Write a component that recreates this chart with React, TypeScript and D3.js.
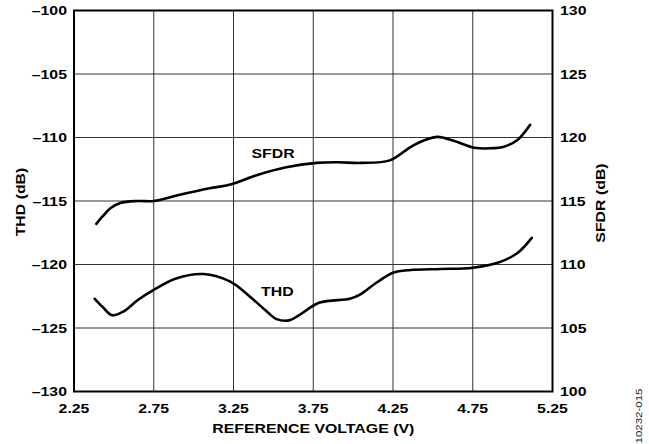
import * as d3 from "d3"

// reference voltage (V) / THD (dB)
const thdVolts = [2.38, 2.43, 2.49, 2.56, 2.65, 2.75, 2.89, 3.06, 3.23, 3.35, 3.45, 3.52, 3.6, 3.66, 3.79, 3.98, 4.04, 4.15, 4.25, 4.36, 4.55, 4.75, 4.92, 5.03, 5.12]
const thdValues = [-122.7, -123.35, -124.0, -123.7, -122.8, -122.0, -121.1, -120.75, -121.35, -122.5, -123.6, -124.3, -124.4, -124.0, -123.0, -122.7, -122.4, -121.4, -120.65, -120.43, -120.35, -120.25, -119.8, -119.1, -117.9]

// reference voltage (V) / SFDR (dB)
const sfdrVolts = [2.39, 2.43, 2.48, 2.54, 2.65, 2.75, 2.9, 3.1, 3.23, 3.4, 3.58, 3.77, 3.9, 4.05, 4.23, 4.36, 4.45, 4.53, 4.63, 4.76, 4.86, 4.95, 5.03, 5.11]
const sfdrValues = [113.2, 113.8, 114.45, 114.85, 115.0, 115.0, 115.45, 116.0, 116.3, 117.05, 117.65, 118.0, 118.05, 118.0, 118.2, 119.25, 119.8, 120.05, 119.75, 119.2, 119.15, 119.3, 119.8, 121.0]

const xTicks = [2.25, 2.75, 3.25, 3.75, 4.25, 4.75, 5.25]
const thdTicks = [-130, -125, -120, -115, -110, -105, -100]
const sfdrTicks = [100, 105, 110, 115, 120, 125, 130]

const W = 649
const H = 444
const left = 74
const right = 552.5
const top = 10.5
const bottom = 391.5
const font = "'Liberation Sans', Arial, sans-serif"
const fmtDb = (v: number) => (v < 0 ? "\u2013" + Math.abs(v) : String(v))

// text with the wide lettering of the original (stretched along the reading direction)
function Label({ x, y, rot = 0, anchor = "start", size = 13, weight = 700, sx = 1.22, fill = "#000", children }) {
  return (
    <text transform={`translate(${x},${y}) rotate(${rot}) scale(${sx},1)`} textAnchor={anchor}
      fontSize={size} style={{ fontWeight: weight }} fill={fill}>{children}</text>
  )
}

export default function App() {
  const x = d3.scaleLinear().domain([2.25, 5.25]).range([left, right])
  const yThd = d3.scaleLinear().domain([-130, -100]).range([bottom, top])
  const ySfdr = d3.scaleLinear().domain([100, 130]).range([bottom, top])

  const thdLine = d3.line<number>()
    .x((_, i) => x(thdVolts[i]))
    .y(d => yThd(d))
    .curve(d3.curveCatmullRom.alpha(0.5))
  const sfdrLine = d3.line<number>()
    .x((_, i) => x(sfdrVolts[i]))
    .y(d => ySfdr(d))
    .curve(d3.curveCatmullRom.alpha(0.5))

  return (
    <svg width={W} height={H} style={{ position: "absolute", left: 0, top: 0, background: "#fff" }}
      fontFamily={font}>
      {/* grid */}
      <g stroke="#333" strokeWidth={1}>
        {xTicks.slice(1, -1).map(t => (
          <line key={"gx" + t} x1={x(t)} x2={x(t)} y1={top} y2={bottom} />
        ))}
        {thdTicks.slice(1, -1).map(t => (
          <line key={"gy" + t} x1={left} x2={right} y1={yThd(t)} y2={yThd(t)} />
        ))}
      </g>
      <rect x={left} y={top} width={right - left} height={bottom - top} fill="none" stroke="#000" strokeWidth={2} />

      {/* curves */}
      <path d={sfdrLine(sfdrValues) || ""} fill="none" stroke="#000" strokeWidth={2.6} strokeLinecap="round" />
      <path d={thdLine(thdValues) || ""} fill="none" stroke="#000" strokeWidth={2.6} strokeLinecap="round" />
      <Label x={251.5} y={158}>SFDR</Label>
      <Label x={261} y={295.5}>THD</Label>

      {/* left axis */}
      {thdTicks.map(t => (
        <Label key={"lt" + t} x={67} y={yThd(t) + 4.6} anchor="end">{fmtDb(t)}</Label>
      ))}
      {/* right axis */}
      {sfdrTicks.map(t => (
        <Label key={"rt" + t} x={560} y={ySfdr(t) + 4.6}>{t}</Label>
      ))}
      {/* bottom axis */}
      {xTicks.map(t => (
        <Label key={"bt" + t} x={x(t)} y={413} anchor="middle">{t.toFixed(2)}</Label>
      ))}

      <Label x={(left + right) / 2} y={433} anchor="middle">REFERENCE VOLTAGE (V)</Label>
      <Label x={24.7} y={202} rot={-90} anchor="middle">THD (dB)</Label>
      <Label x={604.7} y={203} rot={-90} anchor="middle">SFDR (dB)</Label>
      <Label x={642} y={416} rot={-90} anchor="middle" size={8.5} weight={400} sx={1.35} fill="#222">10232-015</Label>
    </svg>
  )
}
